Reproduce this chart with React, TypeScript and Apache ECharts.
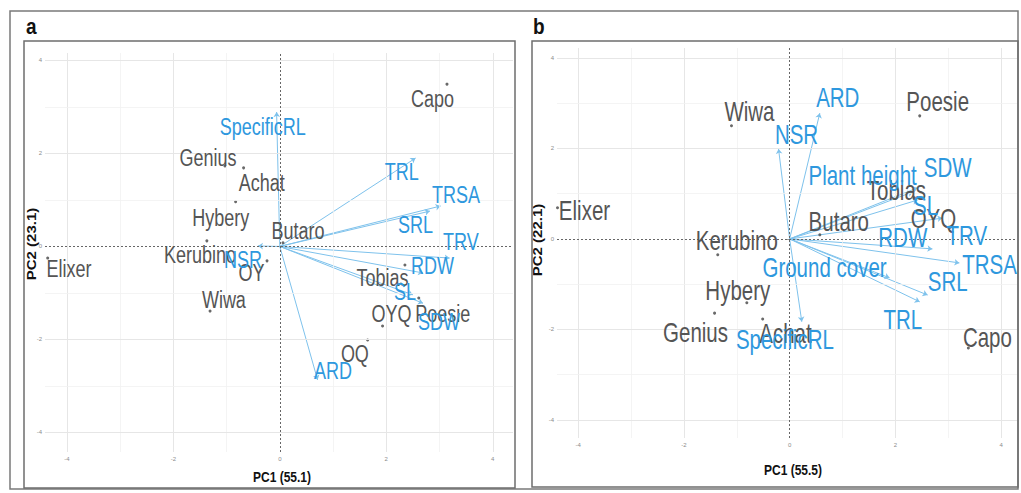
import React, { useEffect, useRef } from "react";
import * as echarts from "echarts";

// ---------- data: panel a ----------
// genotype points [name, PC1, PC2]
const genotypesA: [string, number, number][] = [
  ["Capo", 3.14, 3.49],
  ["Genius", -1.03, 1.73],
  ["Achat", -0.68, 1.69],
  ["Hybery", -0.83, 0.96],
  ["Kerubino", -1.37, 0.12],
  ["Elixer", -4.36, -0.25],
  ["Wiwa", -1.31, -1.39],
  ["OY", -0.24, -0.31],
  ["Butaro", 0.06, 0.08],
  ["Tobias", 2.35, -0.4],
  ["Poesie", 2.61, -1.11],
  ["OYQ", 1.93, -1.71],
  ["OQ", 1.65, -2.01],
];
// repelled label positions [name, x, y]
const genotypeLabelsA: [string, number, number][] = [
  ["Capo", 2.87, 3.17],
  ["Genius", -1.35, 1.92],
  ["Achat", -0.34, 1.37],
  ["Hybery", -1.11, 0.61],
  ["Kerubino", -1.5, -0.18],
  ["Elixer", -3.96, -0.48],
  ["Wiwa", -1.05, -1.15],
  ["OY", -0.53, -0.57],
  ["Butaro", 0.34, 0.35],
  ["Tobias", 1.93, -0.66],
  ["Poesie", 3.06, -1.45],
  ["OYQ", 2.1, -1.45],
  ["OQ", 1.41, -2.31],
];
// variable loadings [name, PC1, PC2]
const loadingsA: [string, number, number][] = [
  ["SpecificRL", -0.06, 2.89],
  ["TRL", 2.55, 1.9],
  ["TRSA", 3.02, 0.87],
  ["SRL", 2.82, 0.76],
  ["TRV", 3.19, -0.25],
  ["RDW", 2.69, -0.57],
  ["SL", 2.5, -1.04],
  ["SDW", 2.69, -1.22],
  ["ARD", 0.71, -2.87],
  ["NSR", -0.41, 0.01],
];
const loadingLabelsA: [string, number, number][] = [
  ["SpecificRL", -0.32, 2.57],
  ["TRL", 2.29, 1.6],
  ["TRSA", 3.31, 1.11],
  ["SRL", 2.55, 0.46],
  ["TRV", 3.4, 0.1],
  ["RDW", 2.87, -0.42],
  ["SL", 2.35, -0.98],
  ["SDW", 2.99, -1.62],
  ["ARD", 1.0, -2.66],
  ["NSR", -0.69, -0.29],
];

// ---------- data: panel b ----------
const genotypesB: [string, number, number][] = [
  ["Wiwa", -1.1, 2.5],
  ["Poesie", 2.46, 2.72],
  ["Elixer", -4.39, 0.69],
  ["Kerubino", -1.36, -0.35],
  ["Hybery", -0.81, -1.41],
  ["Genius", -1.42, -1.64],
  ["Achat", -0.51, -1.77],
  ["Capo", 3.38, -2.41],
  ["Tobias", 2.36, 0.91],
  ["Butaro", 0.57, 0.09],
  ["OYQ", 3.02, 0.24],
];
const genotypeLabelsB: [string, number, number][] = [
  ["Wiwa", -0.76, 2.81],
  ["Poesie", 2.8, 3.03],
  ["Elixer", -3.88, 0.64],
  ["Kerubino", -1.0, -0.04],
  ["Hybery", -0.98, -1.13],
  ["Genius", -1.78, -2.06],
  ["Achat", -0.08, -2.08],
  ["Capo", 3.74, -2.17],
  ["Tobias", 2.02, 1.08],
  ["Butaro", 0.93, 0.38],
  ["OYQ", 2.72, 0.46],
];
const loadingsB: [string, number, number][] = [
  ["ARD", 0.57, 2.78],
  ["NSR", -0.21, 1.99],
  ["Plant height", 2.33, 1.04],
  ["SDW", 2.42, 1.13],
  ["SL", 2.42, 0.86],
  ["TRV", 2.89, 0.46],
  ["RDW", 2.7, -0.22],
  ["TRSA", 3.21, -0.53],
  ["Ground cover", 1.89, -0.86],
  ["SRL", 2.61, -1.24],
  ["TRL", 2.46, -1.39],
  ["SpecificRL", 0.23, -1.83],
];
const loadingLabelsB: [string, number, number][] = [
  ["ARD", 0.91, 3.12],
  ["NSR", 0.13, 2.3],
  ["Plant height", 1.38, 1.41],
  ["SDW", 2.99, 1.57],
  ["SL", 2.57, 0.75],
  ["TRV", 3.35, 0.07],
  ["RDW", 2.14, 0.04],
  ["TRSA", 3.78, -0.57],
  ["Ground cover", 0.66, -0.64],
  ["SRL", 2.99, -0.95],
  ["TRL", 2.14, -1.79],
  ["SpecificRL", -0.09, -2.23],
];

const tickValues = [-4, -2, 0, 2, 4];
const gridValues = [-4, -3, -2, -1, 1, 2, 3, 4];
const axisTitlesA = ["PC1 (55.1)", "PC2 (23.1)"];
const axisTitlesB = ["PC1 (55.5)", "PC2 (22.1)"];

// ---------- styles ----------
const GREY_TEXT = "#555555";
const BLUE_TEXT = "#2E98DE";
const BLUE_LINE = "#7EC2EC";
const BASE_FONT = "'Liberation Sans', Arial, sans-serif";
const LABEL_SIZE_A = 18;
const LABEL_SIZE_B = 20.5;
const LABEL_STRETCH_A = 1.28;
const LABEL_STRETCH_B = 1.32;

function panelSeries(
  idx: number,
  genos: [string, number, number][],
  loads: [string, number, number][]
): any[] {
  const ax = { xAxisIndex: idx, yAxisIndex: idx };
  const gridStyle = (v: number) => ({
    color: v % 2 === 0 ? "#e6e6e6" : "#f1f1f1",
    width: v % 2 === 0 ? 1 : 0.8,
    type: "solid",
  });
  return [
    {
      type: "scatter",
      ...ax,
      z: 1,
      silent: true,
      symbolSize: 0,
      data: [[0, 0]],
      markLine: {
        silent: true,
        symbol: "none",
        label: { show: false },
        animation: false,
        data: [
          ...gridValues.map((v) => ({ xAxis: v, lineStyle: gridStyle(v) })),
          ...gridValues.map((v) => ({ yAxis: v, lineStyle: gridStyle(v) })),
          { xAxis: 0, lineStyle: { color: "#666666", width: 1, type: [2, 2] } },
          { yAxis: 0, lineStyle: { color: "#666666", width: 1, type: [2, 2] } },
        ],
      },
    },
    {
      type: "lines",
      coordinateSystem: "cartesian2d",
      ...ax,
      z: 2,
      silent: true,
      symbol: ["none", "arrow"],
      symbolSize: [0, 5],
      lineStyle: { color: BLUE_LINE, width: 1, opacity: 1 },
      data: loads.map((l) => ({ coords: [[0, 0], [l[1], l[2]]] })),
    },
    {
      type: "scatter",
      ...ax,
      z: 3,
      silent: true,
      symbolSize: 3,
      itemStyle: { color: "#444444" },
      data: genos.map((g) => [g[1], g[2]]),
    },
  ];
}

function makeXAxis(idx: number, min: number, max: number): any {
  return {
    type: "value",
    gridIndex: idx,
    min,
    max,
    axisLine: { show: false },
    splitLine: { show: false },
    axisTick: { show: true, customValues: tickValues, length: 3, lineStyle: { color: "#9a9a9a", width: 1 } },
    axisLabel: { customValues: tickValues, fontSize: 6, color: "#8c8c8c", margin: 4, fontFamily: BASE_FONT },
  };
}
function makeYAxis(idx: number, min: number, max: number): any {
  return {
    type: "value",
    gridIndex: idx,
    min,
    max,
    axisLine: { show: false },
    splitLine: { show: false },
    axisTick: { show: true, customValues: tickValues, length: 3, lineStyle: { color: "#9a9a9a", width: 1 } },
    axisLabel: { customValues: tickValues, fontSize: 6, color: "#8c8c8c", margin: 3, fontFamily: BASE_FONT },
  };
}

export default function App() {
  const ref = useRef<HTMLDivElement>(null);
  useEffect(() => {
    if (!ref.current) return;
    const chart = echarts.init(ref.current, undefined, { renderer: "svg" });
    const staticGraphics: any[] = [
      { type: "rect", shape: { x: 10, y: 11, width: 1008, height: 478 }, style: { fill: "none", stroke: "#7a7a7a", lineWidth: 1.5 }, silent: true, z: 0 },
      { type: "rect", shape: { x: 24, y: 41, width: 491, height: 447 }, style: { fill: "none", stroke: "#6e6e6e", lineWidth: 1.5 }, silent: true, z: 10 },
      { type: "rect", shape: { x: 532, y: 41, width: 486, height: 446 }, style: { fill: "none", stroke: "#6e6e6e", lineWidth: 1.5 }, silent: true, z: 10 },
      { type: "text", x: 26, y: 37, scaleY: 1.15, style: { text: "a", fontSize: 19, fontWeight: "bold", fill: "#111", fontFamily: BASE_FONT, verticalAlign: "bottom" }, silent: true },
      { type: "text", x: 533, y: 37, scaleY: 1.15, style: { text: "b", fontSize: 19, fontWeight: "bold", fill: "#111", fontFamily: BASE_FONT, verticalAlign: "bottom" }, silent: true },
      { type: "text", x: 282, y: 477, scaleY: 1.25, style: { text: axisTitlesA[0], fontSize: 12, fontWeight: "bold", fill: "#111", fontFamily: BASE_FONT, align: "center", verticalAlign: "middle" }, silent: true },
      { type: "text", x: 793, y: 470, scaleY: 1.25, style: { text: axisTitlesB[0], fontSize: 12, fontWeight: "bold", fill: "#111", fontFamily: BASE_FONT, align: "center", verticalAlign: "middle" }, silent: true },
      { type: "text", x: 32, y: 244, rotation: Math.PI / 2, scaleX: 1.25, style: { text: axisTitlesA[1], fontSize: 12, fontWeight: "bold", fill: "#111", fontFamily: BASE_FONT, align: "center", verticalAlign: "middle" }, silent: true },
      { type: "text", x: 538, y: 240, rotation: Math.PI / 2, scaleX: 1.25, style: { text: axisTitlesB[1], fontSize: 12, fontWeight: "bold", fill: "#111", fontFamily: BASE_FONT, align: "center", verticalAlign: "middle" }, silent: true },
    ];
    const option: any = {
      animation: false,
      backgroundColor: "#ffffff",
      textStyle: { fontFamily: BASE_FONT },
      grid: [
        { left: 45, top: 53, width: 468, height: 399 },
        { left: 557, top: 48, width: 460, height: 390 },
      ],
      xAxis: [makeXAxis(0, -4.41, 4.38), makeXAxis(1, -4.4, 4.3)],
      yAxis: [makeYAxis(0, -4.42, 4.16), makeYAxis(1, -4.4, 4.22)],
      series: [
        ...panelSeries(0, genotypesA, loadingsA),
        ...panelSeries(1, genotypesB, loadingsB),
      ],
      graphic: staticGraphics,
    };
    chart.setOption(option);

    // labels placed through the chart's own coordinate conversion
    const labelSets: [number, [string, number, number][], string, number, number, number][] = [
      [0, genotypeLabelsA, GREY_TEXT, 20, LABEL_SIZE_A, LABEL_STRETCH_A],
      [0, loadingLabelsA, BLUE_TEXT, 21, LABEL_SIZE_A, LABEL_STRETCH_A],
      [1, genotypeLabelsB, GREY_TEXT, 20, LABEL_SIZE_B, LABEL_STRETCH_B],
      [1, loadingLabelsB, BLUE_TEXT, 21, LABEL_SIZE_B, LABEL_STRETCH_B],
    ];
    const labelGraphics: any[] = [];
    labelSets.forEach(([gridIndex, labels, color, z, size, stretch]) => {
      labels.forEach(([text, x, y]) => {
        const p = chart.convertToPixel({ gridIndex } as any, [x, y]) as number[];
        labelGraphics.push({
          type: "text",
          x: p[0],
          y: p[1],
          scaleY: stretch,
          z,
          silent: true,
          style: {
            text,
            fontSize: size,
            fill: color,
            fontFamily: BASE_FONT,
            align: "center",
            verticalAlign: "middle",
          },
        });
      });
    });
    chart.setOption({ graphic: [...staticGraphics, ...labelGraphics] });
    return () => chart.dispose();
  }, []);
  return (
    <div
      ref={ref}
      style={{ position: "fixed", left: 0, top: 0, width: 1021, height: 493, background: "#fff" }}
    />
  );
}
